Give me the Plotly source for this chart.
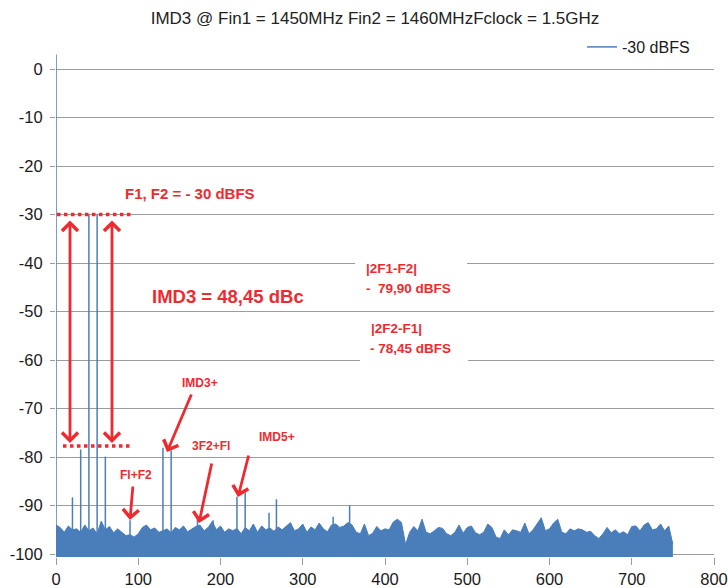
import plotly.graph_objects as go

# ---------------- data ----------------
title_text = "IMD3 @ Fin1 = 1450MHz Fin2 = 1460MHzFclock = 1.5GHz"
series_name = "-30 dBFS"

# noise floor (upper envelope) sampled every 5 MHz from 0 to 750 MHz
noise_step = 5
noise_db = [
    # 0 .. 175
    -94.0, -94.5, -95.5, -94.2, -95.0, -94.8, -95.5, -94.0, -95.2, -94.6,
    -95.8, -93.2, -95.0, -94.3, -95.6, -94.8, -95.5, -96.2, -96.0, -96.5,
    -95.8, -94.5, -94.0, -95.0, -94.6, -95.5, -95.2, -94.8, -95.6, -94.5,
    -95.0, -94.2, -95.4, -94.8, -94.3, -94.0,
    # 180 .. 360
    -95.2, -94.5, -93.3, -95.0, -94.2, -95.5, -94.8, -95.2, -94.7, -95.8,
    -94.5, -95.2, -93.8, -95.5, -94.2, -95.0, -94.6, -95.3, -94.4, -95.0,
    -94.2, -93.5, -95.2, -94.8, -93.8, -95.5, -94.4, -95.0, -93.6, -94.8,
    -95.4, -94.0, -93.8, -94.5, -94.2, -93.5, -94.0,
    # 365 .. 545
    -95.5, -95.8, -93.8, -96.2, -95.7, -94.3, -95.2, -94.8, -95.0, -93.4,
    -92.8, -93.5, -98.0, -95.5, -94.3, -95.2, -92.8, -95.5, -95.8, -95.2,
    -94.5, -94.7, -95.8, -96.2, -95.5, -94.0, -95.7, -94.5, -94.2, -95.6,
    -96.0, -95.5, -93.8, -94.5, -96.5, -96.8, -95.0,
    # 550 .. 750
    -96.0, -95.0, -95.2, -95.5, -93.6, -95.8, -95.0, -93.8, -92.5, -95.2,
    -94.8, -93.6, -92.8, -95.5, -95.8, -94.8, -95.2, -94.8, -95.0, -95.5,
    -95.3, -96.2, -96.8, -95.8, -94.5, -95.6, -95.0, -95.8, -95.4, -96.0,
    -94.3, -94.2, -95.2, -94.0, -93.5, -95.0, -94.8, -93.8, -95.2, -94.2,
    -98.0,
]
noise_freq = [i * noise_step for i in range(len(noise_db))]

# discrete tones / spurs (MHz, dBFS)
spur_freq = [0, 20, 30, 40, 50, 60, 90, 130, 140, 172, 191, 220, 230, 259, 268, 337, 357]
spur_db = [3.0, -88.3, -78.45, -30.0, -30.0, -79.9, -93.0, -78.1, -78.6, -92.3, -93.0,
           -88.2, -87.3, -91.5, -88.7, -92.3, -90.0]

x_ticks = [0, 100, 200, 300, 400, 500, 600, 700, 800]
y_ticks = [0, -10, -20, -30, -40, -50, -60, -70, -80, -90, -100]

# ---------------- styling / geometry ----------------
W, H = 728, 588
L, R, T, B = 56, 14, 54, 31
X_RANGE = [0, 800]
Y_RANGE = [-100.6, 3.1]
FLOOR = -101
BLUE = "#4A7EBB"
RED = "#EE2A2F"
GRID = "#9C9C9C"
FONT = "Liberation Sans, Arial, sans-serif"

pw, ph = W - L - R, H - T - B


def X(px):
    return X_RANGE[0] + (px - L) / pw * (X_RANGE[1] - X_RANGE[0])


def Y(py):
    return Y_RANGE[1] - (py - T) / ph * (Y_RANGE[1] - Y_RANGE[0])


fig = go.Figure()

# noise floor (filled)
fig.add_trace(go.Scatter(x=noise_freq, y=[FLOOR] * len(noise_freq), mode="lines",
                         line=dict(width=0, color=BLUE), showlegend=False, hoverinfo="skip"))
fig.add_trace(go.Scatter(x=noise_freq, y=noise_db, mode="lines", fill="tonexty",
                         fillcolor=BLUE, line=dict(width=1, color=BLUE), showlegend=False))

# spurs as vertical lines
sx, sy = [], []
for f, v in zip(spur_freq, spur_db):
    sx += [f, f, None]
    sy += [FLOOR, v, None]
fig.add_trace(go.Scatter(x=sx, y=sy, mode="lines", line=dict(width=1.5, color=BLUE),
                         name=series_name, showlegend=True))

shapes = []
# white label backgrounds
shapes.append(dict(type="rect", xref="x", yref="y", x0=X(355), x1=X(467), y0=Y(255), y1=Y(300),
                   fillcolor="white", line=dict(width=0), layer="above"))
shapes.append(dict(type="rect", xref="x", yref="y", x0=X(360), x1=X(468), y0=Y(316), y1=Y(366),
                   fillcolor="white", line=dict(width=0), layer="above"))
# red dotted level markers
shapes.append(dict(type="line", xref="x", yref="y", x0=X(57), x1=X(133), y0=-30, y1=-30,
                   line=dict(color=RED, width=3.5, dash="dot"), layer="above"))
shapes.append(dict(type="line", xref="x", yref="y", x0=X(63), x1=X(130), y0=Y(446), y1=Y(446),
                   line=dict(color=RED, width=3.5, dash="dot"), layer="above"))

ann = []


def arrow(x0, y0, x1, y1, both=False):
    ann.append(dict(x=X(x1), y=Y(y1), ax=X(x0), ay=Y(y0), xref="x", yref="y", axref="x", ayref="y",
                    text="", showarrow=True, arrowhead=4, arrowsize=1.1, arrowwidth=2.8,
                    arrowcolor=RED, arrowside="end+start" if both else "end", standoff=0,
                    startstandoff=0, startarrowhead=4, startarrowsize=1.1))


arrow(70, 219, 70, 443, both=True)
arrow(112, 219, 112, 443, both=True)
arrow(192, 393, 167, 452)
arrow(212, 462, 199, 523)
arrow(249, 454, 238, 497)
arrow(133, 485, 130, 520)


def label(text, cx, cy, size, xanchor="center"):
    ann.append(dict(x=X(cx), y=Y(cy), xref="x", yref="y", text=text, showarrow=False,
                    xanchor=xanchor, yanchor="middle",
                    font=dict(family=FONT, size=size, color=RED, weight="bold")))


label("F1, F2 = - 30 dBFS", 190, 193, 15)
label("IMD3 = 48,45 dBc", 228, 296, 18.5)
label("|2F1-F2|", 364, 268, 13.5, xanchor="left")
label("-  79,90 dBFS", 364, 288, 13.5, xanchor="left")
label("|2F2-F1|", 369, 328, 13.5, xanchor="left")
label("- 78,45 dBFS", 368, 348, 13.5, xanchor="left")
label("IMD3+", 200, 383, 12)
label("3F2+Fl", 211, 446, 12)
label("IMD5+", 277, 437, 12)
label("Fl+F2", 136, 475, 12)

fig.update_layout(
    width=W, height=H,
    margin=dict(l=L, r=R, t=T, b=B, pad=0, autoexpand=False),
    paper_bgcolor="white", plot_bgcolor="white",
    font=dict(family=FONT, size=16.5, color="#1a1a1a"),
    title=dict(text=title_text, x=375 / W, xanchor="center", y=1 - 18 / H, yanchor="middle",
               font=dict(family=FONT, size=17, color="#222")),
    showlegend=True,
    legend=dict(x=(582 - L) / pw, y=(H - B - 47) / ph, xanchor="left", yanchor="middle",
                bgcolor="rgba(0,0,0,0)", font=dict(size=16), itemwidth=30),
    xaxis=dict(range=X_RANGE, tickvals=x_ticks, ticktext=[str(v) for v in x_ticks],
               ticks="outside", ticklen=7, tickcolor=GRID, automargin=False,
               showgrid=False, zeroline=False, showline=False, tickfont=dict(size=16.5)),
    yaxis=dict(range=Y_RANGE, tickvals=y_ticks, ticktext=[str(v) for v in y_ticks],
               ticks="outside", ticklen=5, tickcolor=GRID, automargin=False,
               showgrid=True, gridcolor=GRID, gridwidth=1, zeroline=False, showline=False,
               tickfont=dict(size=16.5), ticklabelstandoff=4),
    shapes=shapes, annotations=ann,
)

fig.write_html("out.html", config={"displayModeBar": False},
               post_script="document.body.style.margin='0';document.body.style.overflow='hidden';")
